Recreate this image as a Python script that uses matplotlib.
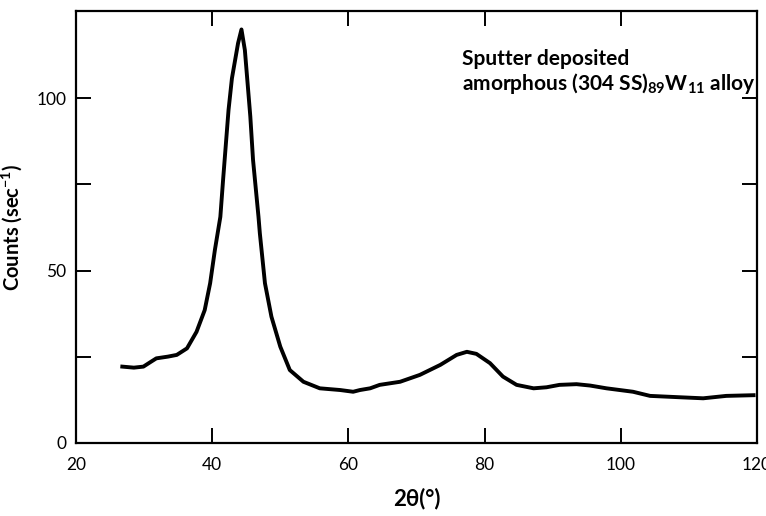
import matplotlib
matplotlib.use("Agg")
import matplotlib.pyplot as plt
from matplotlib.ticker import FixedLocator

plt.rcParams['font.family'] = ['Lato', 'DejaVu Sans']
plt.rcParams['mathtext.fontset'] = 'custom'
plt.rcParams['mathtext.rm'] = 'Lato:bold'
plt.rcParams['mathtext.bf'] = 'Lato:bold'
plt.rcParams['mathtext.it'] = 'Lato:bold'
plt.rcParams['mathtext.default'] = 'rm'

# Data (2theta in degrees, counts per second)
two_theta = [26.8, 28.5, 29.9, 31.0, 31.8, 33.5, 34.8, 36.3, 37.7, 38.9, 39.7,
             40.4, 41.2, 41.6, 42.4, 42.9, 43.8, 44.3, 44.8, 45.6, 46.0, 46.8,
             47.0, 47.75, 48.7, 50.0, 51.4, 53.4, 55.8, 58.8, 60.7, 61.7, 63.2,
             64.6, 67.6, 70.5, 73.5, 75.9, 77.4, 78.8, 80.8, 82.7, 84.7, 87.2,
             89.1, 91.0, 93.5, 95.5, 97.9, 101.8, 104.3, 108.7, 112.1, 115.5,
             119.5]
counts = [22.1, 21.8, 22.1, 23.5, 24.5, 25.0, 25.5, 27.4, 32.2, 38.5, 46.3,
          56.0, 65.6, 76.3, 96.6, 105.8, 116.0, 120.0, 114.0, 94.7, 82.1, 65.6,
          60.8, 46.3, 36.6, 27.9, 21.1, 17.7, 15.8, 15.3, 14.8, 15.3, 15.8,
          16.8, 17.7, 19.7, 22.6, 25.5, 26.4, 25.8, 23.1, 19.2, 16.8, 15.8,
          16.1, 16.8, 17.0, 16.6, 15.8, 14.8, 13.6, 13.2, 12.9, 13.6, 13.8]

x_ticks = [20, 40, 60, 80, 100, 120]
x_tick_labels = ['20', '40', '60', '80', '100', '120']
y_major_ticks = [0, 50, 100]
y_minor_ticks = [25, 75]

fig = plt.figure(figsize=(7.66, 5.16), dpi=100)
ax = fig.add_axes([0.0992, 0.142, 0.889, 0.837])

ax.plot(two_theta, counts, color='black', linewidth=2.8, solid_joinstyle='round')

ax.set_xlim(20, 120)
ax.set_ylim(0, 125.4)

ax.set_xticks(x_ticks)
ax.set_xticklabels(x_tick_labels)
ax.set_yticks(y_major_ticks)
ax.yaxis.set_minor_locator(FixedLocator(y_minor_ticks))

for s in ax.spines.values():
    s.set_linewidth(1.6)

ax.tick_params(axis='both', which='both', direction='in', length=11,
               width=1.4, labelsize=12.5, top=True, right=True, pad=7)
ax.tick_params(axis='x', which='major', pad=10)

ax.set_xlabel('2θ(°)', fontsize=16, fontweight='bold', labelpad=11)
ax.set_ylabel('Counts (sec$^{-1}$)', fontsize=14.5, fontweight='bold', labelpad=9)

ax.text(76.7, 109.7, 'Sputter deposited', fontsize=15, fontweight='bold',
        ha='left', va='baseline')
ax.text(76.7, 102.4, 'amorphous (304 SS)$_{89}$W$_{11}$ alloy', fontsize=15,
        fontweight='bold', ha='left', va='baseline')

fig.savefig('out.png', dpi=100)
